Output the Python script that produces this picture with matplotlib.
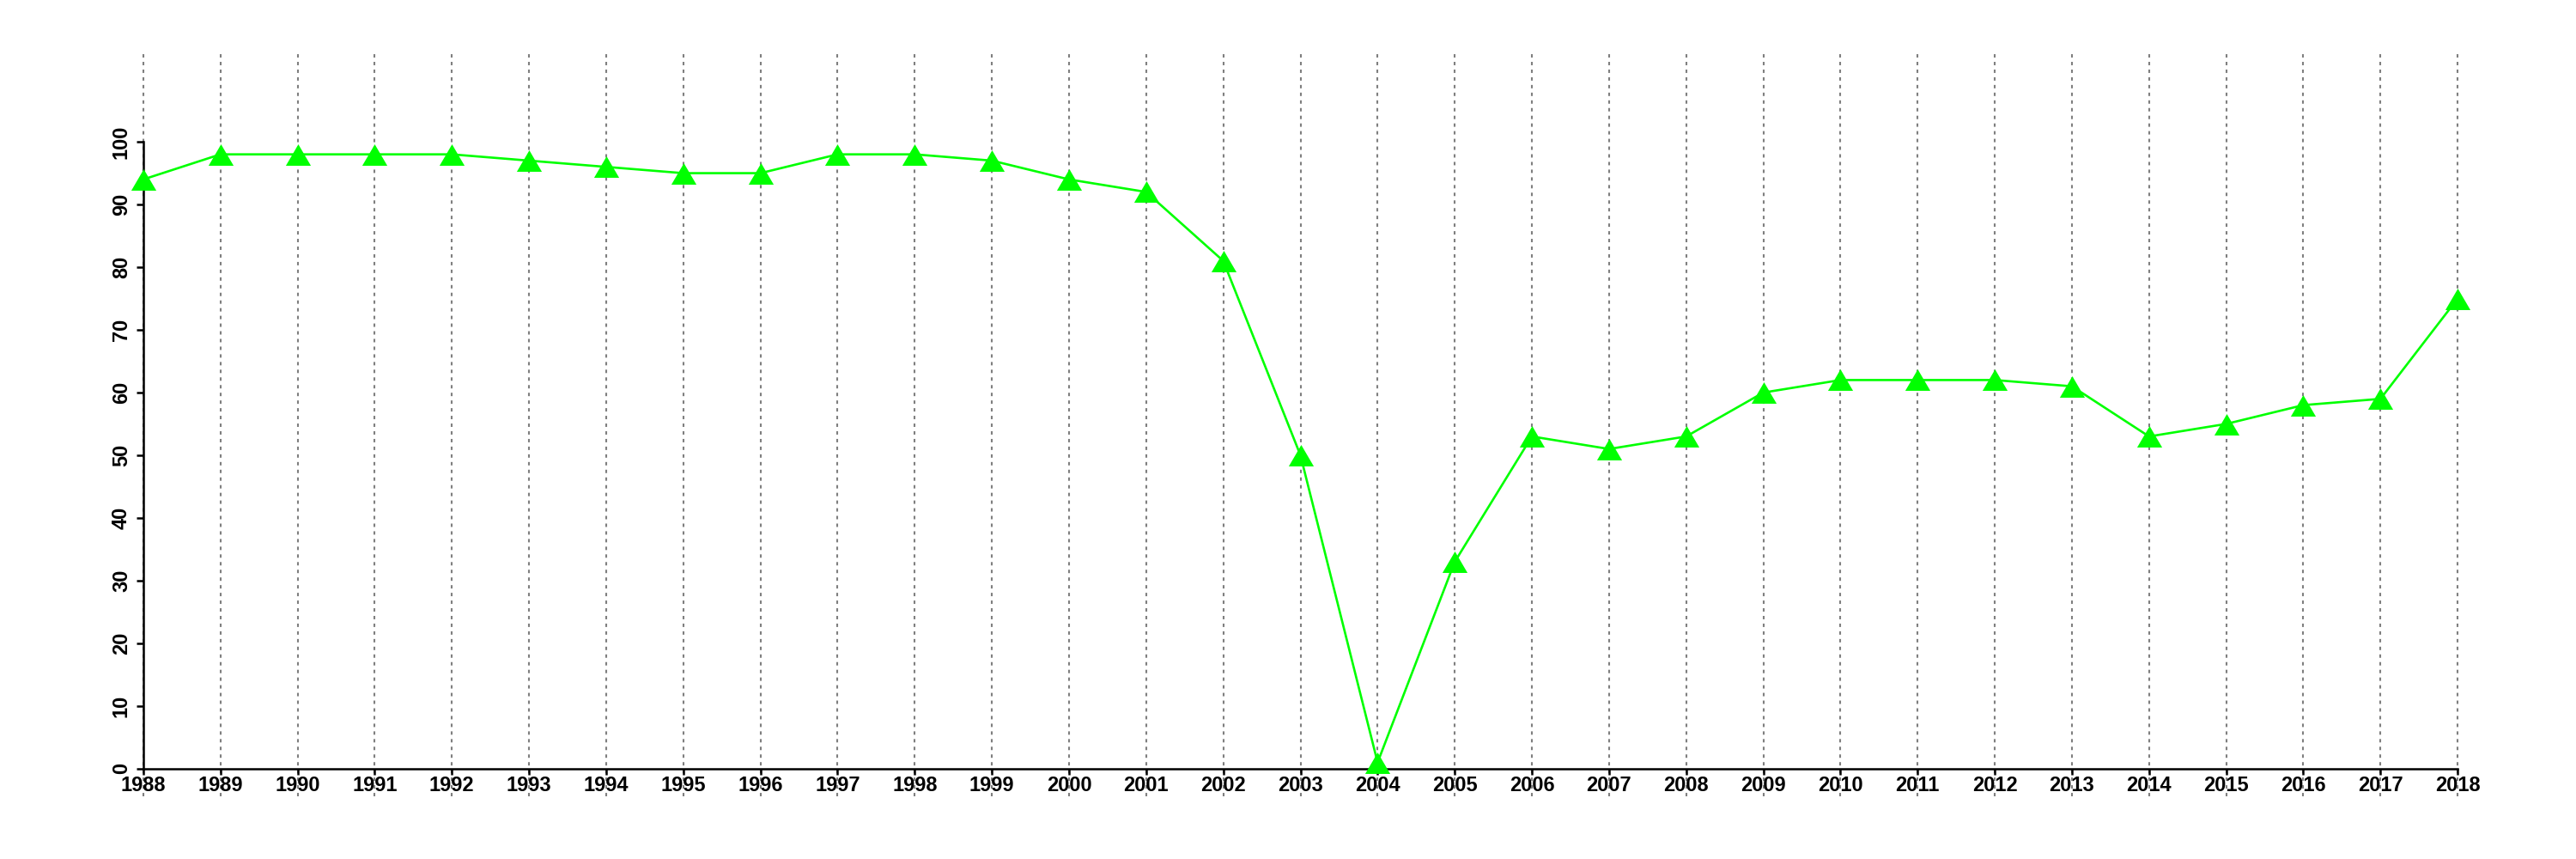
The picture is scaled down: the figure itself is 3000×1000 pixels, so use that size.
import numpy as np
import matplotlib
matplotlib.use("Agg")
import matplotlib.pyplot as plt

years = list(range(1988, 2019))
values = [94, 98, 98, 98, 98, 97, 96, 95, 95, 98, 98, 97, 94, 92, 81, 50,
          1, 33, 53, 51, 53, 60, 62, 62, 62, 61, 53, 55, 58, 59, 75]
y_ticks = list(range(0, 101, 10))

plt.rcParams['font.family'] = ['Liberation Sans', 'DejaVu Sans']

fig = plt.figure(figsize=(30, 10), dpi=100)
ax = fig.add_axes([59 / 3000, 0.073, 2911 / 3000, 0.867])

# dotted year lines, like abline(v=...)
for yr in years:
    ax.axvline(yr, color='#7f7f7f', linestyle=(0, (1.9, 2.4)), linewidth=1.5, zorder=1)

tri = [(-1.17, -1), (1.17, -1), (0, 1)]
ax.plot(years, values, color='#00FF00', linewidth=1.9, marker=tri,
        markersize=21, markeredgewidth=0, zorder=3)

ax.set_xlim(1986.8, 2019.2)
ax.set_ylim(-4.4, 114.4)

for side in ['top', 'right']:
    ax.spines[side].set_visible(False)
ax.spines['left'].set_position(('data', 1988))
ax.spines['left'].set_bounds(0, 100)
ax.spines['bottom'].set_position(('data', 0))
ax.spines['bottom'].set_bounds(1988, 2018)
for side in ['left', 'bottom']:
    ax.spines[side].set_linewidth(1.8)
    ax.spines[side].set_zorder(2)

ax.set_xticks(years)
ax.set_xticklabels([str(y) for y in years], fontsize=17, fontweight='bold')
ax.set_yticks(y_ticks)
ax.set_yticklabels([str(v) for v in y_ticks], fontsize=17, fontweight='bold',
                   rotation=90, va='center')
ax.tick_params(axis='x', length=5, width=1.8, pad=1)
ax.tick_params(axis='y', length=6, width=1.8, pad=4)

fig.savefig("out.png", dpi=100)
